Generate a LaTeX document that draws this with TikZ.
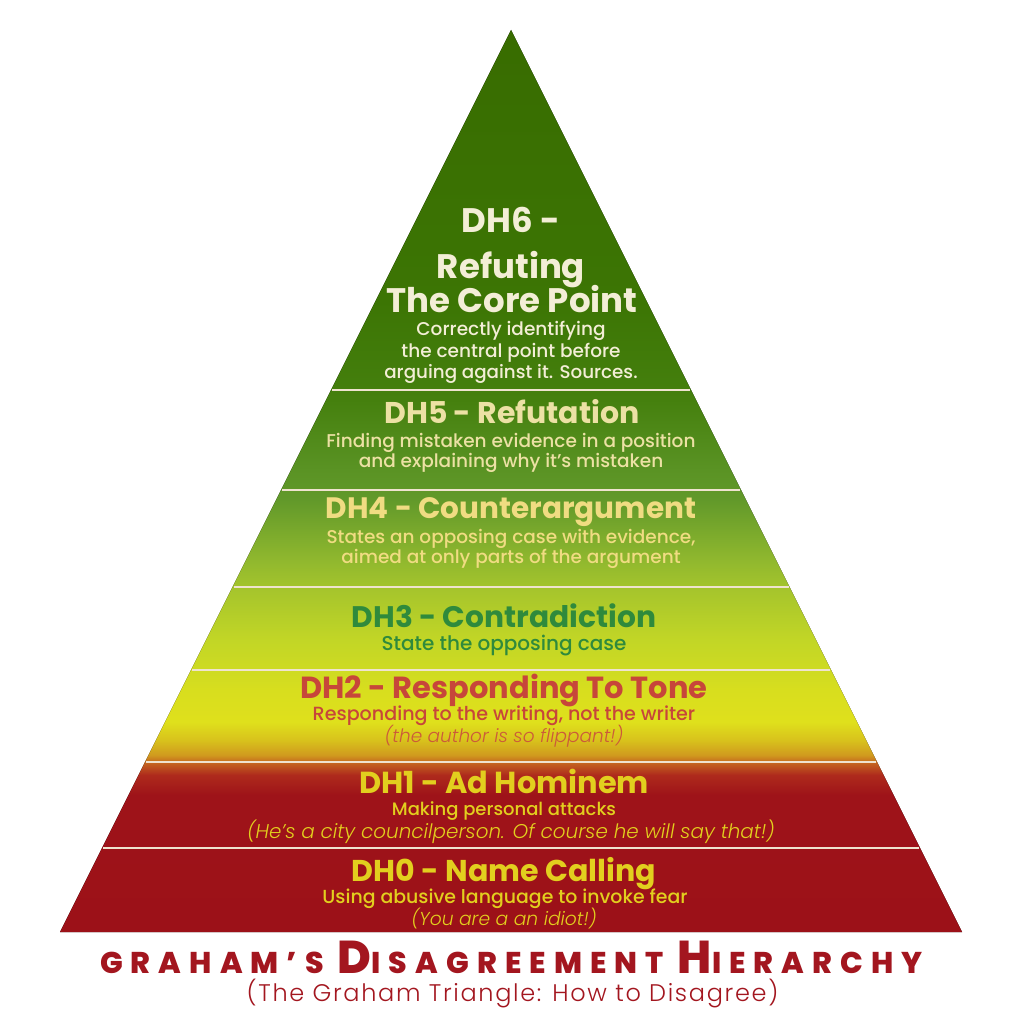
\documentclass[tikz,border=0pt]{standalone}
\usepackage{fontspec}
\setmainfont{Poppins}[BoldFont={Poppins Bold},ItalicFont={Poppins Light Italic}]
\newfontfamily\popmed{Poppins Medium}
\newfontfamily\poplight{Poppins Light}
\newfontfamily\popxb{Poppins ExtraBold}
\definecolor{c01}{HTML}{9C1118}
\definecolor{c02}{HTML}{9E1319}
\definecolor{c03}{HTML}{AE2A1C}
\definecolor{c04}{HTML}{C4641F}
\definecolor{c05}{HTML}{D09A1E}
\definecolor{c06}{HTML}{D8C21C}
\definecolor{c07}{HTML}{DFE01C}
\definecolor{c08}{HTML}{D8DE1E}
\definecolor{c09}{HTML}{CFDB22}
\definecolor{c10}{HTML}{C2D626}
\definecolor{c11}{HTML}{A6C52C}
\definecolor{c12}{HTML}{90B82E}
\definecolor{c13}{HTML}{62992A}
\definecolor{c14}{HTML}{5A9324}
\definecolor{c15}{HTML}{45800E}
\definecolor{c16}{HTML}{3C7504}
\definecolor{c17}{HTML}{386C00}
\pgfdeclareverticalshading{pyr}{100bp}{color(0bp)=(c01); color(25bp)=(c01); color(32.59bp)=(c02); color(33.70bp)=(c03); color(34.37bp)=(c04); color(34.81bp)=(c05); color(35.64bp)=(c06); color(36.64bp)=(c07); color(38.41bp)=(c08); color(39.41bp)=(c09); color(41.19bp)=(c10); color(43.96bp)=(c11); color(45.62bp)=(c12); color(48.95bp)=(c13); color(50.61bp)=(c14); color(54.49bp)=(c15); color(60.03bp)=(c16); color(75bp)=(c17); color(100bp)=(c17)}
\definecolor{txsix}{HTML}{F3EED6}
\definecolor{txfive}{HTML}{ECE1A4}
\definecolor{txfour}{HTML}{F0DC82}
\definecolor{txthree}{HTML}{2F8A3C}
\definecolor{txtwo}{HTML}{C7463A}
\definecolor{txtwoit}{HTML}{CC5A3A}
\definecolor{txone}{HTML}{E2CF1E}
\definecolor{titred}{HTML}{A3161F}
\definecolor{sepcol}{HTML}{EFE3CF}
\newcommand{\fs}[1]{\fontsize{#1}{#1}\selectfont}
\begin{document}
\begin{tikzpicture}[x=1pt,y=-1pt,
  sepline/.style={draw=sepcol,line width=1.5pt},
  ttl/.style={anchor=base,inner sep=0pt,font=\bfseries},
  sub/.style={anchor=base,inner sep=0pt,font=\popmed},
  itl/.style={anchor=base,inner sep=0pt,font=\itshape}]
\useasboundingbox (0,0) rectangle (1024,1024);
\fill[white] (0,0) rectangle (1024,1024);
% pyramid
\fill[shading=pyr] (511,30) -- (962,932) -- (60,932) -- cycle;
% separators
\foreach \yy in {390,490,587,670,762,848}{
  \draw[sepline] ({511-(\yy-30)/2+1},\yy) -- ({511+(\yy-30)/2-1},\yy);
}
% DH6
\node[ttl,text=txsix,font=\bfseries\fs{34}] (t6a) at (511,233) {DH6 -};
\node[ttl,text=txsix,font=\bfseries\fs{34}] (t6b) at (511,278) {Refuting};
\node[ttl,text=txsix,font=\bfseries\fs{34}] (t6c) at (512,312) {The Core Point};
\node[sub,text=txsix,font=\popmed\fs{18.5}] (s6a) at (511,335) {Correctly identifying};
\node[sub,text=txsix,font=\popmed\fs{18.5}] (s6b) at (511,357) {the central point before};
\node[sub,text=txsix,font=\popmed\fs{18.3}] (s6c) at (511,378) {arguing against it. Sources.};
% DH5
\node[ttl,text=txfive,font=\bfseries\fs{30}] (t5) at (512,423) {DH5 - Refutation};
\node[sub,text=txfive,font=\popmed\fs{18.5}] (s5a) at (511,447) {Finding mistaken evidence in a position};
\node[sub,text=txfive,font=\popmed\fs{18.5}] (s5b) at (511,467) {and explaining why it’s mistaken};
% DH4
\node[ttl,text=txfour,font=\bfseries\fs{29.5}] (t4) at (511,518) {DH4 - Counterargument};
\node[sub,text=txfour,font=\popmed\fs{18.5}] (s4a) at (511,543) {States an opposing case with evidence,};
\node[sub,text=txfour,font=\popmed\fs{18.5}] (s4b) at (511,563) {aimed at only parts of the argument};
% DH3
\node[ttl,text=txthree,font=\bfseries\fs{29.7}] (t3) at (504,627) {DH3 - Contradiction};
\node[sub,text=txthree,font=\popmed\fs{20}] (s3) at (504,650) {State the opposing case};
% DH2
\node[ttl,text=txtwo,font=\bfseries\fs{30.5}] (t2) at (504,698) {DH2 - Responding To Tone};
\node[sub,text=txtwo,font=\popmed\fs{19.1}] (s2) at (504,720) {Responding to the writing, not the writer};
\node[itl,text=txtwoit,font=\itshape\fs{18.5}] (i2) at (504,742) {(the author is so flippant!)};
% DH1
\node[ttl,text=txone,font=\bfseries\fs{30.4}] (t1) at (504,793) {DH1 - Ad Hominem};
\node[sub,text=txone,font=\popmed\fs{18}] (s1) at (504,815) {Making personal attacks};
\node[itl,text=txone,font=\itshape\fs{19.9}] (i1) at (511,838) {(He’s a city councilperson. Of course he will say that!)};
% DH0
\node[ttl,text=txone,font=\bfseries\fs{30.1}] (t0) at (504,881) {DH0 - Name Calling};
\node[sub,text=txone,font=\popmed\fs{18.9}] (s0) at (505,903) {Using abusive language to invoke fear};
\node[itl,text=txone,font=\itshape\fs{18.7}] (i0) at (504,925) {(You are a an idiot!)};
% title
\node[anchor=base,inner sep=0pt,text=titred,font=\popxb] (title) at (511.5,973) {\addfontfeature{LetterSpace=27}\fs{30}GRAHAM’S \fs{46}D\fs{30}ISAGREEMENT \fs{46}H\fs{30}IERARCHY};
\node[anchor=base,inner sep=0pt,text=titred,font=\poplight] (subtitle) at (512.5,1001) {\addfontfeature{LetterSpace=7}\fs{24}(The Graham Triangle: How to Disagree)};
\end{tikzpicture}
\end{document}
